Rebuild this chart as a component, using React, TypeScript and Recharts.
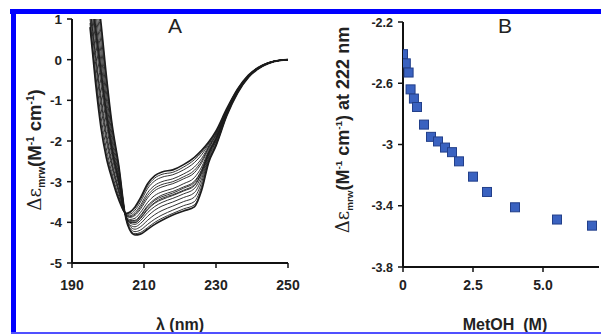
import React from "react";
import { LineChart, Line, XAxis, YAxis, ScatterChart, Scatter } from "recharts";

// ---- Panel A: CD spectra (wavelength in nm) ----
const WAVELENGTHS = [195, 196.5, 198, 199.5, 201, 203, 205, 206, 207.5, 209, 211, 213, 215, 218, 221, 224, 226, 228, 230, 233, 236, 239, 243, 246, 250];

const S0 = [0.8, -0.55, -1.65, -2.4, -2.9, -3.45, -3.78, -3.75, -3.62, -3.4, -3.05, -2.85, -2.76, -2.71, -2.58, -2.4, -2.23, -2.02, -1.75, -1.2, -0.72, -0.38, -0.13, -0.04, 0];
const S1 = [0.9, -0.43, -1.52, -2.3, -2.83, -3.41, -3.79, -3.77, -3.65, -3.44, -3.11, -2.91, -2.82, -2.77, -2.64, -2.46, -2.28, -2.05, -1.77, -1.21, -0.72, -0.38, -0.13, -0.04, 0];
const S2 = [1.02, -0.28, -1.36, -2.17, -2.75, -3.36, -3.8, -3.8, -3.7, -3.5, -3.17, -2.98, -2.89, -2.83, -2.71, -2.53, -2.34, -2.08, -1.79, -1.22, -0.73, -0.39, -0.13, -0.04, 0];
const S3 = [1.2, -0.05, -1.13, -1.99, -2.62, -3.28, -3.81, -3.84, -3.76, -3.58, -3.27, -3.09, -3.0, -2.93, -2.81, -2.64, -2.43, -2.12, -1.82, -1.24, -0.74, -0.39, -0.14, -0.04, 0];
const S4 = [1.32, 0.1, -0.97, -1.87, -2.54, -3.23, -3.82, -3.86, -3.8, -3.63, -3.34, -3.16, -3.07, -3.0, -2.88, -2.72, -2.49, -2.15, -1.85, -1.25, -0.75, -0.4, -0.14, -0.04, 0];
const S5 = [1.42, 0.23, -0.84, -1.76, -2.47, -3.19, -3.82, -3.88, -3.83, -3.68, -3.4, -3.22, -3.13, -3.05, -2.93, -2.78, -2.54, -2.18, -1.86, -1.26, -0.75, -0.4, -0.14, -0.04, 0];
const S6 = [1.62, 0.48, -0.58, -1.56, -2.33, -3.1, -3.84, -3.93, -3.9, -3.76, -3.51, -3.34, -3.25, -3.17, -3.05, -2.9, -2.64, -2.23, -1.9, -1.27, -0.76, -0.4, -0.14, -0.04, 0];
const S7 = [1.76, 0.65, -0.4, -1.42, -2.23, -3.04, -3.85, -3.96, -3.95, -3.83, -3.59, -3.43, -3.33, -3.24, -3.13, -2.99, -2.71, -2.26, -1.93, -1.29, -0.77, -0.41, -0.14, -0.04, 0];
const S8 = [1.82, 0.73, -0.32, -1.35, -2.19, -3.02, -3.85, -3.97, -3.97, -3.85, -3.62, -3.46, -3.37, -3.28, -3.16, -3.02, -2.73, -2.28, -1.94, -1.29, -0.77, -0.41, -0.15, -0.05, 0];
const S9 = [1.9, 0.83, -0.22, -1.27, -2.13, -2.98, -3.86, -3.99, -4.0, -3.89, -3.67, -3.51, -3.41, -3.32, -3.21, -3.07, -2.77, -2.3, -1.95, -1.3, -0.78, -0.41, -0.15, -0.05, 0];
const S10 = [1.94, 0.88, -0.17, -1.23, -2.1, -2.97, -3.86, -4.0, -4.01, -3.91, -3.69, -3.53, -3.44, -3.34, -3.23, -3.1, -2.79, -2.31, -1.96, -1.3, -0.78, -0.41, -0.15, -0.05, 0];
const S11 = [2.06, 1.03, -0.01, -1.11, -2.02, -2.91, -3.87, -4.02, -4.05, -3.96, -3.76, -3.61, -3.51, -3.41, -3.3, -3.17, -2.85, -2.34, -1.98, -1.31, -0.78, -0.42, -0.15, -0.05, 0];
const S12 = [2.22, 1.23, 0.2, -0.94, -1.91, -2.85, -3.88, -4.06, -4.11, -4.03, -3.85, -3.7, -3.6, -3.5, -3.39, -3.27, -2.93, -2.38, -2.01, -1.33, -0.79, -0.42, -0.15, -0.05, 0];
const S13 = [2.4, 1.45, 0.43, -0.76, -1.78, -2.77, -3.89, -4.09, -4.17, -4.11, -3.95, -3.81, -3.71, -3.6, -3.49, -3.38, -3.02, -2.42, -2.05, -1.34, -0.8, -0.43, -0.15, -0.05, 0];
const S14 = [2.58, 1.68, 0.66, -0.58, -1.65, -2.69, -3.9, -4.13, -4.23, -4.19, -4.05, -3.92, -3.82, -3.7, -3.59, -3.49, -3.11, -2.47, -2.08, -1.36, -0.81, -0.43, -0.16, -0.05, 0];
const S15 = [2.72, 1.85, 0.85, -0.43, -1.56, -2.63, -3.91, -4.16, -4.28, -4.25, -4.13, -4.0, -3.9, -3.78, -3.67, -3.57, -3.18, -2.5, -2.11, -1.37, -0.82, -0.44, -0.16, -0.05, 0];
const S16 = [2.8, 1.95, 0.95, -0.35, -1.5, -2.6, -3.92, -4.18, -4.31, -4.29, -4.17, -4.05, -3.95, -3.82, -3.72, -3.62, -3.22, -2.52, -2.12, -1.38, -0.82, -0.44, -0.16, -0.05, 0];

const SPECTRA = [S0, S1, S2, S3, S4, S5, S6, S7, S8, S9, S10, S11, S12, S13, S14, S15, S16];

const A_X_TICKS = [190, 210, 230, 250];
const A_Y_TICKS = [-5, -4, -3, -2, -1, 0, 1];

// ---- Panel B: value at 222 nm vs methanol concentration ----
const METOH = [0, 0.1, 0.2, 0.27, 0.39, 0.5, 0.75, 1.0, 1.25, 1.5, 1.75, 2.0, 2.5, 3.0, 4.0, 5.5, 6.75];
const DEPS222 = [-2.41, -2.47, -2.53, -2.64, -2.7, -2.755, -2.87, -2.95, -2.98, -3.02, -3.05, -3.11, -3.21, -3.31, -3.41, -3.49, -3.53];

const B_X_TICKS = [0, 2.5, 5.0];
const B_Y_TICKS = [-3.8, -3.4, -3, -2.6, -2.2];

const lineData = WAVELENGTHS.map((wl, i) => {
  const row: Record<string, number> = { wl };
  SPECTRA.forEach((s, k) => {
    row["c" + k] = s[i];
  });
  return row;
});

const scatterData = METOH.map((x, i) => ({ x, y: DEPS222[i] }));

const SANS = "'Liberation Sans', Arial, sans-serif";

const makeXTick = (fmt: (v: number) => string, size: number) => (props: any) => {
  const { x, y, payload } = props;
  return (
    <text x={x} y={y} dy={size * 0.72} textAnchor="middle" fontFamily={SANS} fontWeight={700} fontSize={size} fill="#222">
      {fmt(payload.value)}
    </text>
  );
};
const makeYTick = (size: number) => (props: any) => {
  const { x, y, payload } = props;
  return (
    <text x={x} y={y} dy={size * 0.36} textAnchor="end" fontFamily={SANS} fontWeight={700} fontSize={size} fill="#222">
      {String(payload.value)}
    </text>
  );
};

const XTickA = makeXTick((v) => String(v), 14);
const YTickA = makeYTick(13.5);
const XTickB = makeXTick((v) => (v === 0 ? "0" : v.toFixed(1)), 14);
const YTickB = makeYTick(12.5);

const Square = (props: any) => {
  const { cx, cy } = props;
  if (cx == null || cy == null) return null;
  return <rect x={cx - 4.5} y={cy - 4.5} width={9} height={9} fill="#3a62c0" stroke="#223f8a" strokeWidth={1} />;
};

const YTitle = ({ x, y, tail, size }: { x: number; y: number; tail?: string; size: number }) => (
  <text
    transform={`translate(${x},${y}) rotate(-90)`}
    textAnchor="middle"
    fontFamily={SANS}
    fontWeight={700}
    fontSize={size}
    fill="#222"
  >
    <tspan fontFamily="'DejaVu Serif', 'Liberation Serif', serif" fontWeight={400}>Δε</tspan>
    <tspan fontSize={size * 0.55} dy={4}>mrw</tspan>
    <tspan dy={-4}>(M</tspan>
    <tspan fontSize={size * 0.55} dy={-7}>-1</tspan>
    <tspan dy={7}> cm</tspan>
    <tspan fontSize={size * 0.55} dy={-7}>-1</tspan>
    <tspan dy={7}>){tail ?? ""}</tspan>
  </text>
);

export default function App() {
  return (
    <div style={{ position: "absolute", left: 0, top: 0, width: 601, height: 335, overflow: "hidden", background: "#fff" }}>
      <div style={{ position: "absolute", left: 0, top: 0 }}>
        <LineChart width={300} height={335} data={lineData} margin={{ top: 19, right: 12, bottom: 42, left: 32 }}>
          <XAxis
            dataKey="wl"
            type="number"
            domain={[190, 250]}
            ticks={A_X_TICKS}
            allowDataOverflow
            height={30}
            tickSize={5}
            tickMargin={12}
            axisLine={{ stroke: "#111", strokeWidth: 2 }}
            tickLine={{ stroke: "#111", strokeWidth: 1.5 }}
            tick={XTickA}
          />
          <YAxis
            type="number"
            domain={[-5, 1]}
            ticks={A_Y_TICKS}
            allowDataOverflow
            width={40}
            tickSize={5}
            tickMargin={5}
            axisLine={{ stroke: "#111", strokeWidth: 2 }}
            tickLine={{ stroke: "#111", strokeWidth: 1.5 }}
            tick={YTickA}
          />
          {SPECTRA.map((_, k) => (
            <Line
              key={k}
              dataKey={"c" + k}
              type="monotone"
              stroke="#1c1c1c"
              strokeWidth={k === 0 || k === SPECTRA.length - 1 ? 1.6 : 0.9}
              dot={false}
              isAnimationActive={false}
            />
          ))}
        </LineChart>
      </div>
      <div style={{ position: "absolute", left: 300, top: 0 }}>
        <ScatterChart width={301} height={335} margin={{ top: 22, right: 2, bottom: 38, left: 63 }}>
          <XAxis
            dataKey="x"
            type="number"
            domain={[0, 7]}
            ticks={B_X_TICKS}
            allowDataOverflow
            height={30}
            tickSize={5}
            tickMargin={8}
            axisLine={{ stroke: "#111", strokeWidth: 2 }}
            tickLine={{ stroke: "#111", strokeWidth: 1.5 }}
            tick={XTickB}
          />
          <YAxis
            dataKey="y"
            type="number"
            domain={[-3.8, -2.2]}
            ticks={B_Y_TICKS}
            allowDataOverflow
            width={40}
            tickSize={5}
            tickMargin={5}
            axisLine={{ stroke: "#111", strokeWidth: 2 }}
            tickLine={{ stroke: "#111", strokeWidth: 1.5 }}
            tick={YTickB}
          />
          <Scatter data={scatterData} shape={Square} isAnimationActive={false} />
        </ScatterChart>
      </div>
      <svg width={601} height={335} style={{ position: "absolute", left: 0, top: 0, pointerEvents: "none" }}>
        <text x={175} y={33} textAnchor="middle" fontFamily={SANS} fontSize={21} fill="#222">A</text>
        <text x={505} y={33} textAnchor="middle" fontFamily={SANS} fontSize={21} fill="#222">B</text>
        <YTitle x={41} y={150} size={18.5} />
        <YTitle x={349} y={130} size={18} tail=" at 222 nm" />
        <text x={180} y={330} textAnchor="middle" fontFamily={SANS} fontWeight={700} fontSize={16} fill="#222">λ (nm)</text>
        <text x={505} y={330} textAnchor="middle" fontFamily={SANS} fontWeight={700} fontSize={16} fill="#222" xmlSpace="preserve">MetOH  (M)</text>
        <rect x={10} y={9} width={591} height={5} fill="#0000ff" />
        <rect x={11} y={9} width={5} height={325} fill="#0000ff" />
        <rect x={11} y={332} width={590} height={2} fill="#5050ff" />
      </svg>
    </div>
  );
}
